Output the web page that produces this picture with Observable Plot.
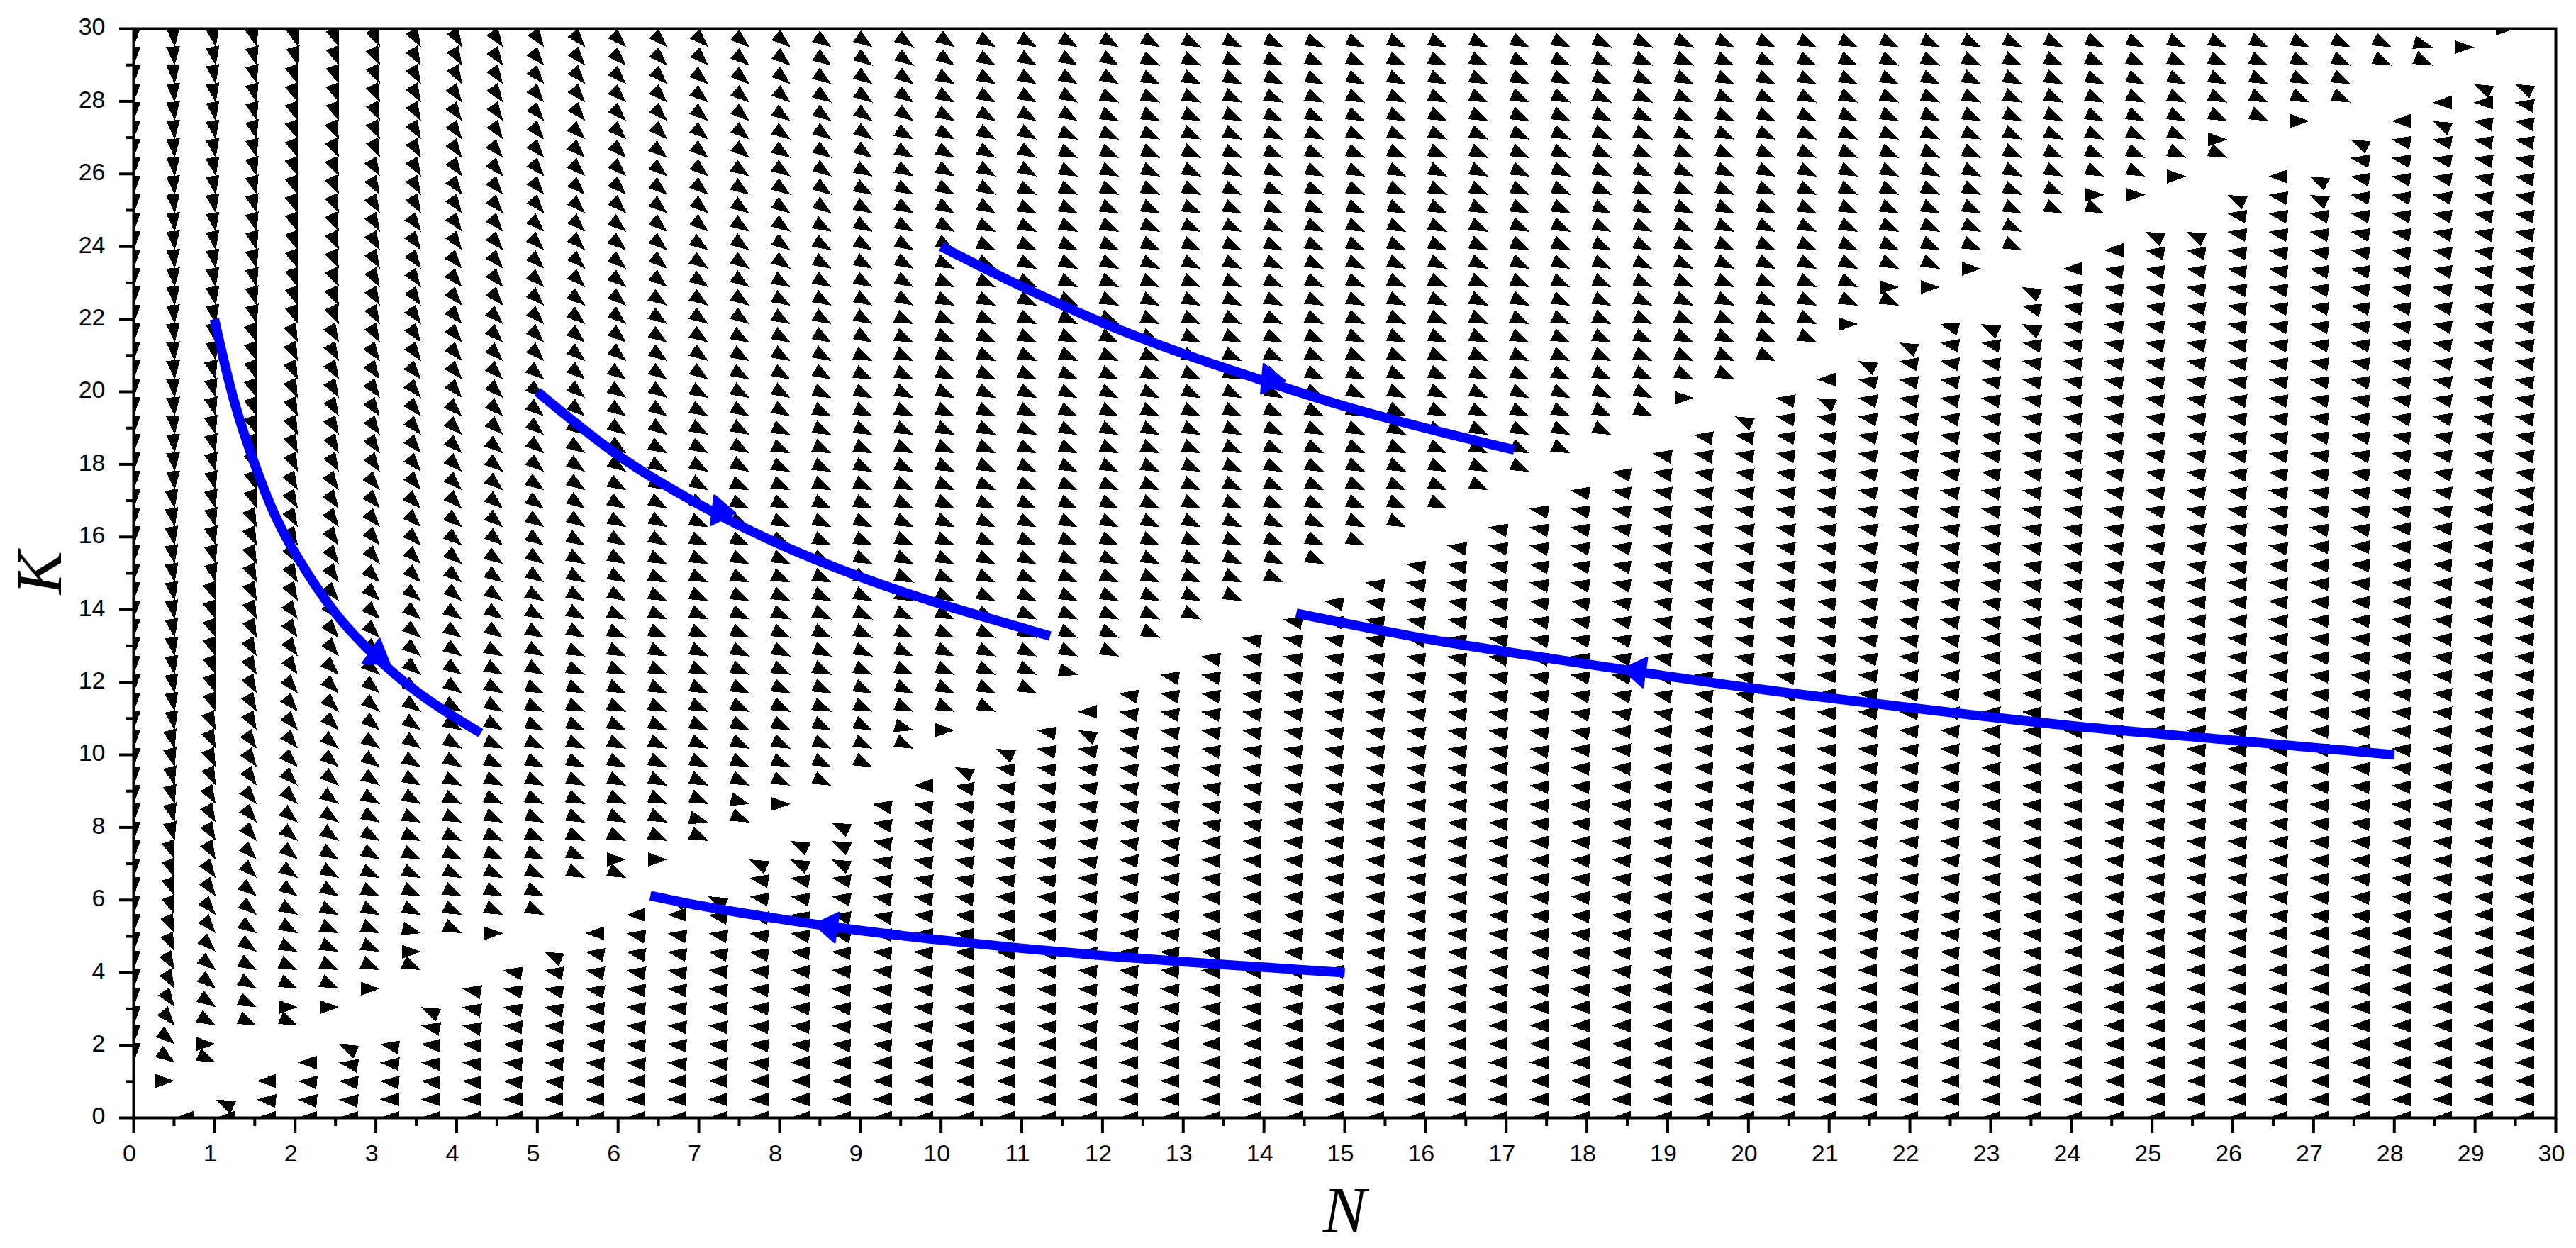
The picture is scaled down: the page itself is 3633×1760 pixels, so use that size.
<!DOCTYPE html>
<html>
<head>
<meta charset="utf-8">
<script src="https://cdn.jsdelivr.net/npm/d3@7"></script>
<script src="https://cdn.jsdelivr.net/npm/@observablehq/plot@0.6"></script>
<style>
html,body{margin:0;padding:0;background:#fff}
svg{display:block}
</style>
</head>
<body>
<div id="chart"></div>
<script>
// Arrow heading per row (K index 0..59), run-length coded by column (N index 0..59).
// Letter = heading step of 5 degrees (a=0 ... s=90), "." = no arrow.
// Estimated: angles sampled in crops of the picture, not measured for every arrow.
const headingRows = [
".1 a59",".2 b4 a54",".1 f1 .1 c1 b7 a49","s1 h1 f1 .1 c2 b10 a44","s1 i1 f2 .1 c2 b14 a39",
"s1 k1 g1 f2 .1 c3 b17 a34","s1 l1 h1 f3 .1 c4 b20 a29","s1 m1 i1 g1 f3 .1 c4 b25 a23","s1 m1 i1 g1 f4 .1 c5 b28 a18","s1 n1 j1 h1 f5 .1 c6 b31 a13",
"s1 n1 k1 h1 g1 f5 .1 c7 b34 a8","s1 o1 k1 i1 g1 f6 .1 c7 b38 a3","s1 o1 l1 i1 h1 g1 f6 .1 c8 b39","s1 o1 l1 j1 h1 g1 f7 .1 c9 b37","s1 o1 m1 j1 i1 g2 f7 .1 c9 b36",
"s1 p1 m1 k1 i1 h1 g1 f8 .1 c10 b34","s1 p1 m1 k1 i1 h1 g1 f9 .1 c11 b32","s1 p1 m1 k1 j1 h1 g2 f9 .1 c12 b30","s1 p1 n1 l1 j1 i1 h1 g1 f10 .1 c12 b29","s1 p1 n1 l1 j1 i1 h1 g2 f10 .1 c13 b27",
"s1 p1 n1 l1 k1 i1 h2 g1 f11 .1 c14 b25","s1 q1 n1 m1 k1 j1 i1 h1 g2 f11 .1 c14 b24","s1 q1 o1 m1 k1 j1 i1 h1 g2 f12 .1 c15 b22","s1 q1 o1 m1 k1 j1 i1 h2 g1 f13 .1 c16 b20","s1 q1 o1 m1 l1 j1 i2 h1 g2 f13 .1 c16 b19",
"s1 q1 o1 m1 l1 k1 j1 i1 h1 g2 f14 .1 c17 b17","s1 q1 o1 n1 l1 k1 j1 i1 h2 g2 f14 .1 c18 b15","s1 q1 o1 n1 l1 k1 j1 i1 h2 g2 f15 .1 c19 b13","s1 q1 o1 n1 m1 k1 j1 i2 h1 g3 f15 .1 c19 b12","s1 q1 p1 n1 m1 l1 j2 i1 h2 g2 f16 .1 c20 b10",
"s1 q1 p1 n1 m1 l1 k1 j1 i1 h2 g2 f17 .1 c21 b8","s1 q1 p1 n1 m1 l1 k1 j1 i2 h1 g3 f17 .1 c21 b7","s1 q1 p1 n1 m1 l1 k1 j1 i2 h2 g2 f18 .1 c22 b5","s1 q1 p1 o1 m1 l1 k1 j2 i1 h2 g3 f18 .1 c23 b3","s1 r1 p1 o1 m1 l1 k2 j1 i1 h2 g3 f19 .1 c24 b1",
"s1 r1 p1 o1 n1 m1 l1 k1 j1 i2 h2 g3 f19 .1 c24","s1 r1 p1 o1 n1 m1 l1 k1 j1 i2 h2 g3 f20 .1 c23","s1 r1 p1 o1 n1 m1 l1 k1 j2 i1 h3 g2 f21 .1 c22","s1 r1 p1 o1 n1 m1 l1 k1 j2 i2 h2 g3 f21 .1 c21","s1 r1 p1 o1 n1 m1 l1 k2 j1 i2 h2 g3 f22 .1 c20",
"s1 r1 p1 o1 n1 m1 l1 k2 j1 i2 h3 g3 f22 .1 c19","s1 r1 q1 o1 n1 m1 l2 k1 j2 i2 h2 g3 f23 .1 c18","s1 r1 q1 o1 n1 m2 l1 k1 j2 i2 h2 g4 f23 .1 c17","s1 r1 q1 p1 o1 n1 m1 l1 k1 j2 i2 h3 g3 f24 .1 c16","s1 r1 q1 p1 o1 n1 m1 l1 k2 j1 i2 h3 g4 f24 .1 c15",
"s1 r1 q1 p1 o1 n1 m1 l1 k2 j2 i2 h2 g4 f25 .1 c14","s1 r1 q1 p1 o1 n1 m1 l1 k2 j2 i2 h3 g3 f26 .1 c13","s1 r1 q1 p1 o1 n1 m1 l2 k1 j2 i2 h3 g4 f26 .1 c12","s1 r1 q1 p1 o1 n1 m1 l2 k1 j2 i3 h2 g4 f27 .1 c11","s1 r1 q1 p1 o1 n1 m2 l1 k2 j2 i2 h3 g4 f27 .1 c10",
"s1 r1 q1 p1 o1 n1 m2 l1 k2 j2 i2 h3 g4 f28 .1 c9","s1 r1 q1 p1 o1 n1 m2 l1 k2 j2 i2 h3 g5 f28 .1 c8","s1 r1 q1 p1 o1 n2 m1 l1 k2 j2 i3 h3 g4 f29 .1 c7","s1 r1 q1 p1 o1 n2 m1 l2 k1 j3 i2 h3 g4 f30 .1 c6","s1 r1 q1 p1 o2 n1 m1 l2 k2 j2 i2 h4 g4 f30 .1 c5",
"s1 r1 q1 p1 o2 n1 m1 l2 k2 j2 i3 h3 g4 f31 .1 c4","s1 r1 q1 p1 o2 n1 m2 l1 k2 j2 i3 h3 g5 f31 .1 c3","s1 r1 q1 p2 o1 n1 m2 l1 k2 j3 i2 h4 g4 f32 .1 c2","s1 r1 q1 p2 o1 n1 m2 l2 k1 j3 i2 h4 g5 f32 .1 c1","s1 r1 q1 p2 o1 n1 m2 l2 k2 j2 i3 h3 g5 f33 .1"
];

const gapCells = [[3,4],[6,5],[8,9],[11,12],[14,13],[45,44],[47,48],[50,49],[52,53],[53,52],[55,56],[58,57]];
const flatCells = [[1,2],[2,4],[4,6],[5,6],[6,7],[7,9],[9,10],[12,14],[13,14],[16,17],[20,21],[38,39],[42,43],[43,45],[44,45],[45,46],[48,50],[49,50],[50,51],[51,53],[53,54],[57,58],[58,59],
  [3,2],[4,3],[11,10],[12,11],[13,11],[19,18],[23,22],[41,40],[47,46],[48,47],[52,51],[55,54],[56,55],[57,55]];
const shallowCells = [[7,10],[14,16],[15,17],[19,21],[23,24],[56,58],[44,43],[46,44]];
const steepCells = [[2,1],[5,4],[7,6],[10,9],[13,12],[14,12],[15,14],[16,15],[16,14],[17,16],[17,15],[17,14],[20,19],[21,20],[23,21],[39,38],[41,39],[42,41],[43,42],[45,43],[46,45],[46,43],[49,48],[50,48],[51,50],[53,51],[53,50],[54,53],[56,54],[57,56],[58,56]];

// Blue trajectories.
const curve1N = [1,1.25,1.5,1.75,2,2.5,3,3.5,4,4.3];
const curve1K = [22,19.7,18,16.6,15.55,13.9,12.7,11.75,11,10.6];
const curve2N = [5,6,7,8,9,10,11,11.35];
const curve2K = [20,18.25,16.9,15.8,14.9,14.15,13.5,13.27];
const curve3N = [10,11,12,13,14,15,16,17.1];
const curve3K = [24,22.9,21.9,21.05,20.3,19.6,19,18.4];
const curve4N = [28,26,24,22,20,18,16,14.4];
const curve4K = [10,10.4,10.8,11.3,11.85,12.5,13.2,13.9];
const curve5N = [15,14,13,12,11,10,9,8,7,6.4];
const curve5K = [4,4.15,4.3,4.47,4.67,4.9,5.16,5.48,5.85,6.12];

// Arrowheads on the blue curves: tip position and on-screen rotation.
const headN = [3.17,7.45,14.26,18.44,8.43];
const headK = [12.5,16.66,20.3,12.36,5.33];
const headRotate = [125,97,95,278.5,278];

const xMajor = d3.range(0,31);
const xMinor = d3.range(0.5,30,1);
const yMajor = d3.range(0,31,2);
const yMinor = d3.range(1,31,2);

const step = 30/59;
const key = ([i,j]) => i+"_"+j;
const gaps = new Set(gapCells.map(key));
const flats = new Set(flatCells.map(key));
const shallows = new Set(shallowCells.map(key));
const steeps = new Set(steepCells.map(key));

const cells = [];
headingRows.forEach((row,j) => {
  let i = 0;
  for (const run of row.split(" ")) {
    const code = run[0], count = +run.slice(1);
    for (let c = 0; c < count; c++, i++) {
      if (code === "." || gaps.has(i+"_"+j)) continue;
      let deg = (code.charCodeAt(0)-97)*5;
      const id = i+"_"+j;
      if (flats.has(id)) deg = 0;
      else if (shallows.has(id)) deg = 15;
      else if (steeps.has(id)) deg = 25;
      cells.push({n:i*step, k:j*step, r:(i<j ? 90 : 270)+deg});
    }
  }
});

const curves = [[curve1N,curve1K],[curve2N,curve2K],[curve3N,curve3K],[curve4N,curve4K],[curve5N,curve5K]]
  .flatMap(([ns,ks],c) => ns.map((n,t) => ({n,k:ks[t],c})));
const heads = headN.map((n,t) => ({n,k:headK[t],r:headRotate[t]}));

const triangle = hw => ({draw(ctx,l){ctx.moveTo(0,-l);ctx.lineTo(hw,0);ctx.lineTo(-hw,0);ctx.closePath();}});

const chart = Plot.plot({
  width:3633, height:1760,
  marginLeft:188, marginRight:29, marginTop:40, marginBottom:184,
  style:{background:"#fff",fontFamily:"'Liberation Sans',sans-serif",color:"#000"},
  x:{domain:[0,30],axis:null},
  y:{domain:[0,30],axis:null},
  marks:[
    Plot.vector(cells,{x:"n",y:"k",rotate:"r",length:27,anchor:"end",shape:triangle(9.8),fill:"#000",stroke:"none",clip:true,shapeRendering:"crispEdges"}),
    Plot.line(curves,{x:"n",y:"k",z:"c",stroke:"#0000ff",strokeWidth:13.5,curve:"catmull-rom",strokeLinecap:"butt",strokeLinejoin:"round"}),
    Plot.vector(heads,{x:"n",y:"k",rotate:"r",length:32,anchor:"end",shape:triangle(21),fill:"#0000ff",stroke:"#0000ff",strokeWidth:3}),
    Plot.axisX(xMajor,{anchor:"bottom",tickSize:22,strokeWidth:4,tickFormat:()=>"",label:null}),
    Plot.axisX(xMinor,{anchor:"bottom",tickSize:12,strokeWidth:4,tickFormat:()=>"",label:null}),
    Plot.axisX(xMajor,{anchor:"bottom",tickSize:0,tickPadding:37,dx:-6,fontSize:34,fill:"#000",tickFormat:d=>String(d),label:null}),
    Plot.axisY(yMajor,{anchor:"left",tickSize:20,strokeWidth:4,tickFormat:()=>"",label:null}),
    Plot.axisY(yMinor,{anchor:"left",tickSize:10,strokeWidth:4,tickFormat:()=>"",label:null}),
    Plot.axisY(yMajor,{anchor:"left",tickSize:0,tickPadding:40,dy:-2,fontSize:34,fill:"#000",tickFormat:d=>String(d),label:null}),
    Plot.frame({stroke:"#000",strokeWidth:4}),
    Plot.text(["N"],{frameAnchor:"bottom",dy:160,fontSize:92,fontStyle:"italic",fontFamily:"'Liberation Serif',serif",fill:"#000"}),
    Plot.text(["K"],{frameAnchor:"left",dx:-132,dy:30,rotate:-90,fontSize:92,fontStyle:"italic",fontFamily:"'Liberation Serif',serif",fill:"#000"})
  ]
});
document.getElementById("chart").appendChild(chart);
</script>
</body>
</html>
